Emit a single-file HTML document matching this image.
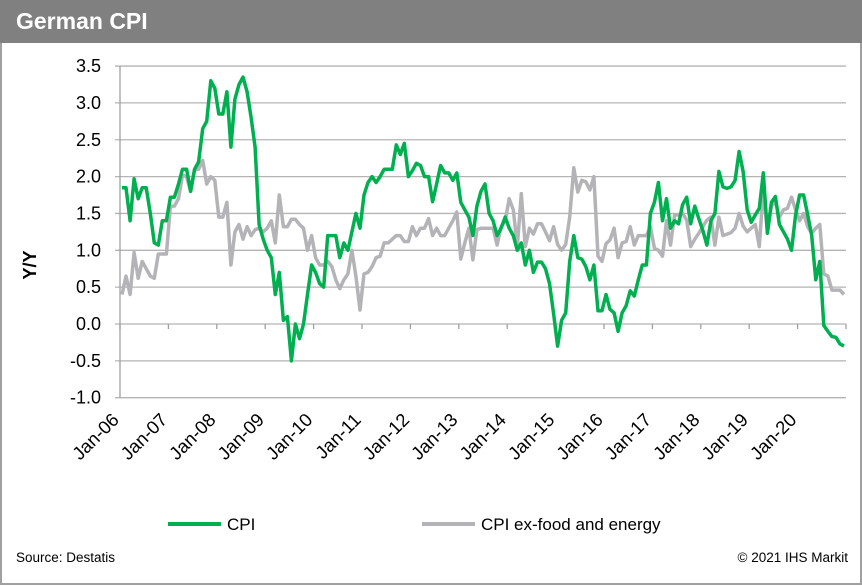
<!DOCTYPE html>
<html><head><meta charset="utf-8"><style>
body{margin:0;background:#fff;}
svg{display:block;font-family:"Liberation Sans",Arial,sans-serif;}
</style></head><body>
<svg id="chart" width="862" height="586" viewBox="0 0 862 586">
<rect x="1" y="1" width="860" height="583" fill="#fff" stroke="#a0a0a0" stroke-width="2"/>
<rect x="0" y="0" width="862" height="43" fill="#808080"/>
<text x="16" y="29" font-size="23" font-weight="bold" fill="#fff">German CPI</text>
<g id="grid"></g>
<g id="yticks"></g>
<g id="xticks"></g>
<text transform="translate(36,265) rotate(-90)" text-anchor="middle" font-size="18" font-weight="bold" fill="#000">Y/Y</text>
<g id="series"></g>
<g>
<line x1="168" y1="524" x2="221" y2="524" stroke="#00b050" stroke-width="4"/>
<text x="227" y="530" font-size="17" fill="#000">CPI</text>
<line x1="422" y1="524" x2="475" y2="524" stroke="#b4b4b8" stroke-width="4"/>
<text x="481" y="530" font-size="17" fill="#000">CPI ex-food and energy</text>
</g>
<text x="16" y="562" font-size="13.5" fill="#000">Source: Destatis</text>
<text x="848" y="562" font-size="13.5" fill="#000" text-anchor="end">© 2021 IHS Markit</text>
</svg>
<script>
const yTicks=[-1.0,-0.5,0.0,0.5,1.0,1.5,2.0,2.5,3.0,3.5];
const xLabels=["Jan-06","Jan-07","Jan-08","Jan-09","Jan-10","Jan-11","Jan-12","Jan-13","Jan-14","Jan-15","Jan-16","Jan-17","Jan-18","Jan-19","Jan-20"];
const cpi=[1.85,1.85,1.4,1.97,1.7,1.85,1.85,1.5,1.1,1.07,1.4,1.4,
1.72,1.72,1.9,2.1,2.1,1.8,2.1,2.2,2.65,2.75,3.3,3.2,
2.85,2.85,3.15,2.4,3.05,3.25,3.35,3.15,2.8,2.4,1.35,1.15,
1.0,0.9,0.4,0.7,0.05,0.1,-0.5,0.0,-0.2,0.0,0.4,0.8,
0.7,0.55,0.5,1.2,1.2,1.2,0.9,1.1,1.0,1.25,1.5,1.3,
1.75,1.92,2.0,1.92,2.0,2.1,2.1,2.1,2.43,2.3,2.45,2.0,
2.08,2.18,2.15,2.0,2.0,1.66,1.9,2.15,2.05,2.05,1.95,2.05,
1.65,1.55,1.45,1.2,1.6,1.8,1.9,1.5,1.4,1.2,1.3,1.45,
1.3,1.2,1.0,1.1,0.8,1.0,0.7,0.84,0.84,0.75,0.55,0.14,
-0.3,0.05,0.15,0.85,1.2,0.9,0.88,0.78,0.6,0.8,0.18,0.18,
0.4,0.2,0.15,-0.1,0.15,0.25,0.45,0.38,0.6,0.8,0.8,1.5,
1.65,1.92,1.4,1.7,1.3,1.4,1.36,1.62,1.72,1.36,1.6,1.43,
1.27,1.07,1.4,1.5,2.07,1.86,1.84,1.86,1.95,2.34,2.07,1.55,
1.38,1.48,1.57,2.05,1.23,1.65,1.73,1.35,1.25,1.15,1.0,1.48,
1.75,1.75,1.48,1.2,0.6,0.85,-0.02,-0.1,-0.17,-0.18,-0.27,-0.3];
const core=[0.4,0.65,0.4,0.97,0.62,0.85,0.75,0.65,0.62,0.95,0.95,0.95,
1.6,1.6,1.7,2.02,2.0,1.8,2.1,2.1,2.22,1.9,2.0,1.95,
1.45,1.45,1.65,0.8,1.25,1.35,1.15,1.32,1.2,1.28,1.3,1.25,
1.3,1.4,1.1,1.75,1.32,1.32,1.42,1.42,1.35,1.3,1.0,1.2,
0.9,0.8,0.8,0.85,0.78,0.6,0.48,0.6,0.68,1.0,0.65,0.19,
0.68,0.7,0.78,0.9,0.92,1.1,1.1,1.15,1.2,1.2,1.12,1.12,
1.32,1.2,1.3,1.3,1.43,1.2,1.3,1.2,1.2,1.3,1.4,1.52,
0.88,1.1,1.3,0.87,1.28,1.3,1.3,1.3,1.3,1.07,1.32,1.4,
1.7,1.55,1.05,1.77,1.05,1.3,1.22,1.36,1.36,1.25,1.13,1.32,
1.08,1.0,1.08,1.45,2.12,1.79,1.95,1.93,1.82,2.0,0.92,0.85,
1.09,1.14,1.3,0.9,1.1,1.12,1.32,1.07,1.2,1.2,1.2,1.32,
1.03,1.0,0.92,1.4,1.07,1.48,1.48,1.5,1.41,1.05,1.15,1.23,
1.32,1.41,1.45,1.07,1.45,1.2,1.22,1.24,1.3,1.5,1.33,1.25,
1.3,1.35,1.05,1.84,1.25,1.6,1.66,1.45,1.55,1.57,1.72,1.55,
1.4,1.5,1.32,1.23,1.3,1.35,0.68,0.65,0.46,0.46,0.46,0.4];

const NS="http://www.w3.org/2000/svg";
const X0=120, X1=846, Y0=324, UNIT=73.7, NM=180;
const step=(X1-X0)/NM;
function xScale(i){return X0+(i+0.5)*step;}
function yScale(v){return Y0-v*UNIT;}
function mk(tag,attrs,parent){const e=document.createElementNS(NS,tag);for(const k in attrs)e.setAttribute(k,attrs[k]);parent.appendChild(e);return e;}
const grid=document.getElementById('grid');
yTicks.forEach(v=>{
  const y=yScale(v);
  const l=mk('line',{x1:X0-5,x2:X1,y1:y,y2:y,stroke:'#b4b4b4','stroke-width':1.3},grid);
  
  
  const t=mk('text',{x:101,y:y+6,'text-anchor':'end','font-size':18,fill:'#000'},document.getElementById('yticks'));
  t.textContent=v.toFixed(1);
  
  
});
const ax=mk('line',{x1:X0,x2:X0,y1:yScale(3.5),y2:yScale(-1),stroke:'#a0a0a0','stroke-width':1.3},grid);


const xt=document.getElementById('xticks');
xLabels.forEach((lab,k)=>{
  const x=X0+k*12*step;
  const tk=mk('line',{x1:x,x2:x,y1:Y0,y2:Y0+5,stroke:'#a0a0a0','stroke-width':1.3},grid);
  
  
  const t=mk('text',{'text-anchor':'end','font-size':18.5,fill:'#000',transform:`translate(${x},${421}) rotate(-45)`},xt);
  t.textContent=lab;
  
  
});
const tkEnd=mk('line',{x1:X1,x2:X1,y1:Y0,y2:Y0+5,stroke:'#a0a0a0','stroke-width':1.3},grid);


function path(vals){return vals.map((v,i)=>(i?'L':'M')+xScale(i).toFixed(1)+','+yScale(v).toFixed(1)).join('');}
const s=document.getElementById('series');
const p2=mk('path',{d:path(core),fill:'none',stroke:'#b4b4b8','stroke-width':3.5,'stroke-linejoin':'round'},s);


const p1=mk('path',{d:path(cpi),fill:'none',stroke:'#00b050','stroke-width':3.5,'stroke-linejoin':'round'},s);


</script>
</body></html>
